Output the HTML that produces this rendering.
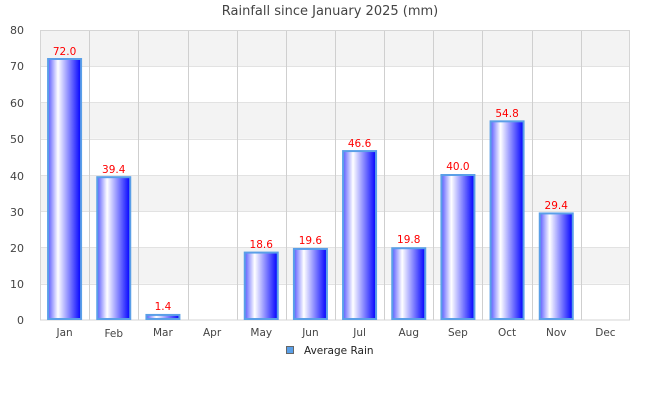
<!DOCTYPE html>
<html><head><meta charset="utf-8"><style>body{margin:0;background:#fff}svg{display:block}text{font-family:"DejaVu Sans","Liberation Sans",sans-serif}</style></head><body>
<svg width="660" height="400" xmlns="http://www.w3.org/2000/svg">
<defs><linearGradient id="g" x1="0" x2="1" y1="0" y2="0">
<stop offset="0" stop-color="#5a5aff"/><stop offset="0.3" stop-color="#ffffff"/><stop offset="1" stop-color="#0000ff"/></linearGradient></defs>
<text x="330" y="15" font-size="13" fill="#444" text-anchor="middle">Rainfall since January 2025 (mm)</text>
<g fill="#f3f3f3">
<rect x="40" y="30" width="590" height="36.25"/><rect x="40" y="102.5" width="590" height="36.25"/><rect x="40" y="175" width="590" height="36.25"/><rect x="40" y="247.5" width="590" height="36.25"/></g>
<g stroke="#e2e2e2" stroke-width="1">
<line x1="40" x2="630" y1="66.5" y2="66.5"/><line x1="40" x2="630" y1="102.5" y2="102.5"/><line x1="40" x2="630" y1="139.5" y2="139.5"/><line x1="40" x2="630" y1="175.5" y2="175.5"/><line x1="40" x2="630" y1="211.5" y2="211.5"/><line x1="40" x2="630" y1="247.5" y2="247.5"/><line x1="40" x2="630" y1="284.5" y2="284.5"/></g>
<g stroke="#cfcfcf" stroke-width="1">
<line x1="89.5" x2="89.5" y1="30" y2="320"/><line x1="138.5" x2="138.5" y1="30" y2="320"/><line x1="188.5" x2="188.5" y1="30" y2="320"/><line x1="237.5" x2="237.5" y1="30" y2="320"/><line x1="286.5" x2="286.5" y1="30" y2="320"/><line x1="335.5" x2="335.5" y1="30" y2="320"/><line x1="384.5" x2="384.5" y1="30" y2="320"/><line x1="433.5" x2="433.5" y1="30" y2="320"/><line x1="482.5" x2="482.5" y1="30" y2="320"/><line x1="532.5" x2="532.5" y1="30" y2="320"/><line x1="581.5" x2="581.5" y1="30" y2="320"/></g>
<rect x="40.5" y="30.5" width="589" height="289.5" fill="none" stroke="#d5d5d5"/>
<g fill="url(#g)" stroke="#5a9fe8" stroke-width="2">
<rect x="48.08" y="59" width="33" height="260"/>
<rect x="97.25" y="177.18" width="33" height="141.82"/>
<rect x="146.42" y="314.93" width="33" height="4.07"/>
<rect x="244.75" y="252.58" width="33" height="66.42"/>
<rect x="293.92" y="248.95" width="33" height="70.05"/>
<rect x="343.08" y="151.08" width="33" height="167.92"/>
<rect x="392.25" y="248.23" width="33" height="70.77"/>
<rect x="441.42" y="175" width="33" height="144"/>
<rect x="490.58" y="121.35" width="33" height="197.65"/>
<rect x="539.75" y="213.43" width="33" height="105.57"/>
</g>
<g font-size="10.5" fill="#f00" text-anchor="middle">
<text x="64.58" y="55">72.0</text><text x="113.75" y="173">39.4</text><text x="162.92" y="310">1.4</text><text x="261.25" y="248">18.6</text><text x="310.42" y="244">19.6</text><text x="359.58" y="147">46.6</text><text x="408.75" y="243">19.8</text><text x="457.92" y="170">40.0</text><text x="507.08" y="117">54.8</text><text x="556.25" y="209">29.4</text></g>
<g font-size="10.5" fill="#444" text-anchor="middle">
<text x="64.58" y="336">Jan</text><text x="113.75" y="337">Feb</text><text x="162.92" y="336">Mar</text><text x="212.08" y="336">Apr</text><text x="261.25" y="336">May</text><text x="310.42" y="336">Jun</text><text x="359.58" y="336">Jul</text><text x="408.75" y="336">Aug</text><text x="457.92" y="336">Sep</text><text x="507.08" y="336">Oct</text><text x="556.25" y="336">Nov</text><text x="605.42" y="336">Dec</text></g>
<g font-size="11" fill="#444" text-anchor="end">
<text x="24" y="34">80</text><text x="24" y="70">70</text><text x="24" y="107">60</text><text x="24" y="143">50</text><text x="24" y="180">40</text><text x="24" y="216">30</text><text x="24" y="252">20</text><text x="24" y="288">10</text><text x="24" y="324">0</text></g>
<rect x="286.5" y="346.5" width="7" height="7" fill="#5a9fe8" stroke="#666"/>
<text x="304" y="354" font-size="10.5" fill="#222">Average Rain</text>
</svg></body></html>
